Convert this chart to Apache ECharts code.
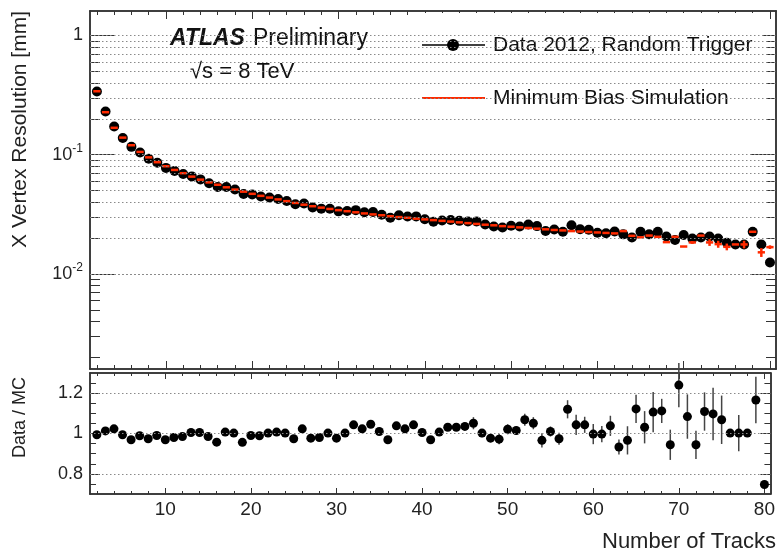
<!DOCTYPE html>
<html>
<head>
<meta charset="utf-8">
<script src="https://cdn.jsdelivr.net/npm/echarts@6/dist/echarts.min.js"></script>
<style>
html, body { margin: 0; padding: 0; background: #fff; }
#main { width: 778px; height: 552px; }
</style>
</head>
<body>
<div id="main"></div>
<script>
// number of tracks (bin centres)
var nTracks = [2,3,4,5,6,7,8,9,10,11,12,13,14,15,16,17,18,19,20,21,22,23,24,25,26,27,28,29,30,
  31,32,33,34,35,36,37,38,39,40,41,42,43,44,45,46,47,48,49,50,51,52,53,54,55,56,57,58,59,60,
  61,62,63,64,65,66,67,68,69,70,71,72,73,74,75,76,77,78,79,80];

// data 2012, x vertex resolution [mm]
var dataRes = [0.338,0.230,0.172,0.138,0.1163,0.1043,0.0925,0.0856,0.0775,0.0730,0.0690,0.0658,0.0621,0.0577,
  0.0536,0.0537,0.0511,0.0468,0.0465,0.0447,0.0438,0.0425,0.0409,0.0384,0.0390,0.0361,0.0353,0.0352,0.0335,
  0.0337,0.0343,0.0329,0.0331,0.0314,0.0296,0.0311,0.0303,0.0304,0.0288,0.0274,0.0281,0.0284,0.0279,0.0276,
  0.0276,0.0260,0.0250,0.0245,0.0254,0.0250,0.0260,0.0252,0.0229,0.0236,0.0226,0.0256,0.0237,0.0235,0.0222,
  0.0220,0.0227,0.0215,0.0202,0.0226,0.0215,0.0226,0.0206,0.0193,0.0212,0.0198,0.0202,0.0206,0.0198,0.0183,
  0.0177,0.0177,0.0226,0.0177,0.0125];

// minimum bias simulation
var mcRes = [0.340,0.227,0.168,0.139,0.120,0.1055,0.0950,0.0865,0.0800,0.0745,0.0700,0.0655,0.0618,0.0586,
  0.0560,0.0533,0.0510,0.0490,0.0470,0.0452,0.0437,0.0422,0.0408,0.0394,0.0381,0.0370,0.0360,0.0351,0.0343,
  0.0336,0.0329,0.0322,0.0316,0.0311,0.0305,0.0300,0.0296,0.0291,0.0287,0.0283,0.0279,0.0275,0.0271,0.0267,
  0.0263,0.0259,0.0256,0.0252,0.0249,0.0246,0.0243,0.0240,0.0237,0.0234,0.0232,0.0229,0.0227,0.0225,0.0223,
  0.0221,0.0219,0.0229,0.0209,0.0203,0.0210,0.0205,0.0185,0.0205,0.0170,0.0184,0.0210,0.0184,0.0178,0.0169,
  0.0177,0.0177,0.0226,0.0152,0.0168];

var mcErr = [0,0,0,0,0,0,0,0,0,0,0,0,0,0,0,0,0,0,0,0,0,0,0,0,0,0,0,0,0,
  0,0,0,0,0,0,0,0,0,0,0,0,0,0,0,0,0,0,0,0,0,0,0,0,0,0,0,0,0,0,
  0,0,0,0,0,0,0,0,0,0,0.0005,0,0.0012,0.0012,0.0011,0,0.0013,0,0.0013,0.0006];

// data / MC
var ratio = [0.994,1.013,1.023,0.994,0.969,0.989,0.974,0.990,0.969,0.980,0.985,1.005,1.005,0.985,0.957,1.007,
  1.002,0.956,0.990,0.989,1.002,1.007,1.002,0.974,1.023,0.977,0.980,1.002,0.977,1.002,1.043,1.023,1.046,1.010,
  0.969,1.038,1.023,1.043,1.005,0.969,1.007,1.031,1.031,1.035,1.051,1.002,0.977,0.972,1.021,1.015,1.068,1.051,
  0.966,1.010,0.974,1.120,1.043,1.043,0.997,0.997,1.038,0.933,0.966,1.122,1.031,1.106,1.112,0.944,1.240,1.084,
  0.944,1.109,1.097,1.068,1.002,1.002,1.002,1.166,0.747];

var ratioErr = [0.004,0.004,0.004,0.004,0.004,0.004,0.004,0.004,0.004,0.004,0.004,0.004,0.004,0.004,0.004,0.004,
  0.004,0.004,0.004,0.006,0.006,0.006,0.006,0.006,0.006,0.006,0.006,0.006,0.006,0.01,0.01,0.01,0.01,0.01,0.01,
  0.01,0.01,0.01,0.01,0.015,0.015,0.015,0.015,0.015,0.03,0.02,0.02,0.025,0.025,0.02,0.03,0.03,0.035,0.025,0.03,
  0.045,0.05,0.04,0.05,0.04,0.05,0.037,0.07,0.07,0.08,0.1,0.06,0.075,0.11,0.11,0.07,0.095,0.13,0.12,0.005,
  0.09,0.005,0.115,0.01];

// axis ticks
var xLabels = [10,20,30,40,50,60,70,80];
var xMinor = [2,4,6,8,12,14,16,18,22,24,26,28,32,34,36,38,42,44,46,48,52,54,56,58,62,64,66,68,72,74,76,78];
var yDecades = [0.01, 0.1, 1];
var yMinor = [0.002,0.003,0.004,0.005,0.006,0.007,0.008,0.009,0.02,0.03,0.04,0.05,0.06,0.07,0.08,0.09,
  0.2,0.3,0.4,0.5,0.6,0.7,0.8,0.9];
var ratioLabels = [0.8, 1, 1.2];
var ratioMinor = [0.75, 0.85, 0.9, 0.95, 1.05, 1.1, 1.15, 1.25];

var X_MIN = 1.2, X_MAX = 80.7;
var Y_MIN = 0.0016, Y_MAX = 1.6;
var R_MIN = 0.7, R_MAX = 1.3;
var FONT = 'Liberation Sans';
var frame = { color: '#333', width: 1.5 };

var dom = document.getElementById('main');
var myChart = echarts.init(dom);

function xAx(grid, pos, vals, len, withLabels) {
    return {
        type: 'value', gridIndex: grid, position: pos, min: X_MIN, max: X_MAX,
        axisLine: { show: true, onZero: false, lineStyle: frame },
        axisTick: { show: true, inside: true, length: len, customValues: vals, lineStyle: { color: '#333' } },
        axisLabel: withLabels ? {
            customValues: xLabels, margin: 6, fontSize: 19, fontFamily: FONT, color: '#222'
        } : { show: false },
        splitLine: { show: false }
    };
}

function yAx(grid, pos, min, max, vals, len, fmt) {
    return {
        type: 'value', gridIndex: grid, position: pos, min: min, max: max,
        axisLine: { show: true, onZero: false, lineStyle: frame },
        axisTick: { show: true, inside: true, length: len, customValues: vals, lineStyle: { color: '#333' } },
        axisLabel: fmt ? {
            customValues: vals, margin: 7, fontSize: 18, fontFamily: FONT, color: '#222',
            formatter: fmt,
            rich: { s: { fontSize: 12, fontFamily: FONT, color: '#222', padding: [0, 0, 12, 0] } }
        } : { show: false },
        splitLine: { show: false }
    };
}

var lgMin = Math.log10(Y_MIN), lgMax = Math.log10(Y_MAX);
var decLog = yDecades.map(function (v) { return Math.log10(v); });
var minLog = yMinor.map(function (v) { return Math.log10(v); });

function decadeLabel(v) {
    var e = Math.round(v);
    return e === 0 ? '1' : '10{s|' + e + '}';
}
function ratioLabel(v) {
    return String(Math.round(v * 10) / 10);
}

var topGrid = yMinor.concat(yDecades).map(function (v) { return { yAxis: v }; });
var ratioGrid = ratioLabels.map(function (v) { return { yAxis: v }; });
var dotted = { color: '#8a8a8a', type: [1.5, 2.5], width: 1 };

function renderMc(params, api) {
    var n = api.value(0), v = api.value(1), e = api.value(2);
    var l = api.coord([n - 0.42, v]);
    var r = api.coord([n + 0.42, v]);
    var st = { stroke: '#ff2a00', lineWidth: 2.5 };
    var kids = [{ type: 'line', shape: { x1: l[0], y1: l[1], x2: r[0], y2: r[1] }, style: st }];
    if (e > 0) {
        var t = api.coord([n, v + e]), b = api.coord([n, v - e]);
        kids.push({ type: 'line', shape: { x1: t[0], y1: t[1], x2: b[0], y2: b[1] }, style: st });
    }
    return { type: 'group', children: kids };
}

function renderErr(params, api) {
    var n = api.value(0), v = api.value(1), e = api.value(2);
    var t = api.coord([n, v + e]), b = api.coord([n, v - e]);
    return { type: 'line', shape: { x1: t[0], y1: t[1], x2: b[0], y2: b[1] },
        style: { stroke: '#444', lineWidth: 1.5 } };
}

var option = {
    backgroundColor: '#fff',
    animation: false,
    grid: [
        { left: 90, top: 11, width: 686, height: 358 },
        { left: 90, top: 373, width: 686, height: 121 }
    ],
    xAxis: [
        xAx(0, 'bottom', xMinor, 4, false),   // 0 data axis top panel
        xAx(0, 'bottom', xLabels, 8, false),
        xAx(0, 'top', xMinor, 4, false),
        xAx(0, 'top', xLabels, 8, false),
        xAx(1, 'bottom', xMinor, 3, false),   // 4 data axis ratio panel
        xAx(1, 'bottom', xLabels, 6, true),
        xAx(1, 'top', xMinor, 3, false),
        xAx(1, 'top', xLabels, 6, false)
    ],
    yAxis: [
        { type: 'log', gridIndex: 0, min: Y_MIN, max: Y_MAX, show: false, logBase: 10 },  // 0
        yAx(0, 'left', lgMin, lgMax, minLog, 10, null),
        yAx(0, 'left', lgMin, lgMax, decLog, 25, decadeLabel),
        yAx(0, 'right', lgMin, lgMax, minLog, 10, null),
        yAx(0, 'right', lgMin, lgMax, decLog, 25, null),
        yAx(1, 'left', R_MIN, R_MAX, ratioMinor, 6, null),  // 5
        yAx(1, 'left', R_MIN, R_MAX, ratioLabels, 10, ratioLabel),
        yAx(1, 'right', R_MIN, R_MAX, ratioMinor, 6, null),
        yAx(1, 'right', R_MIN, R_MAX, ratioLabels, 10, null)
    ],
    series: [
        {
            name: 'grid top', type: 'line', xAxisIndex: 0, yAxisIndex: 0, data: [], z: 1, silent: true,
            markLine: { silent: true, symbol: 'none', label: { show: false }, lineStyle: dotted,
                animation: false, data: topGrid }
        },
        {
            name: 'grid ratio', type: 'line', xAxisIndex: 4, yAxisIndex: 6, data: [], z: 1, silent: true,
            markLine: { silent: true, symbol: 'none', label: { show: false }, lineStyle: dotted,
                animation: false, data: ratioGrid }
        },
        {
            name: 'Data 2012, Random Trigger', type: 'scatter', xAxisIndex: 0, yAxisIndex: 0, z: 3,
            symbol: 'circle', symbolSize: 10, itemStyle: { color: '#000', opacity: 1 },
            data: nTracks.map(function (n, i) { return [n, dataRes[i]]; })
        },
        {
            name: 'Minimum Bias Simulation', type: 'custom', xAxisIndex: 0, yAxisIndex: 0, z: 4,
            renderItem: renderMc, encode: { x: 0, y: 1 },
            data: nTracks.map(function (n, i) { return [n, mcRes[i], mcErr[i]]; })
        },
        {
            name: 'ratio err', type: 'custom', xAxisIndex: 4, yAxisIndex: 6, z: 3,
            renderItem: renderErr, encode: { x: 0, y: 1 },
            data: nTracks.map(function (n, i) { return [n, ratio[i], ratioErr[i]]; })
        },
        {
            name: 'Data / MC', type: 'scatter', xAxisIndex: 4, yAxisIndex: 6, z: 4,
            symbol: 'circle', symbolSize: 9, itemStyle: { color: '#000', opacity: 1 },
            data: nTracks.map(function (n, i) { return [n, ratio[i]]; })
        }
    ],
    graphic: [
        // legend box
        { type: 'rect', z: 2, shape: { x: 413, y: 13, width: 350, height: 114 }, style: { fill: '#fff' } },
        { type: 'line', z: 3, shape: { x1: 422, y1: 45, x2: 485, y2: 45 }, style: { stroke: '#000', lineWidth: 1.5 } },
        { type: 'circle', z: 3, shape: { cx: 453, cy: 45, r: 6 }, style: { fill: '#000' } },
        { type: 'text', z: 3, x: 493, y: 45, style: { text: 'Data 2012, Random Trigger', font: '21px "Liberation Sans"',
            fill: '#111', verticalAlign: 'middle' } },
        { type: 'line', z: 3, shape: { x1: 422, y1: 98, x2: 485, y2: 98 }, style: { stroke: '#ff2a00', lineWidth: 2 } },
        { type: 'text', z: 3, x: 493, y: 98, style: { text: 'Minimum Bias Simulation', font: '21px "Liberation Sans"',
            fill: '#111', verticalAlign: 'middle' } },
        // labels
        { type: 'text', z: 3, x: 170, y: 39, style: { text: 'ATLAS', font: 'italic bold 23px "Liberation Sans"',
            fill: '#111', verticalAlign: 'middle' } },
        { type: 'text', z: 3, x: 253, y: 39, style: { text: 'Preliminary', font: '23px "Liberation Sans"',
            fill: '#111', verticalAlign: 'middle' } },
        { type: 'text', z: 3, x: 190, y: 72, style: { text: '\u221as = 8 TeV', font: '22px "Liberation Sans"',
            fill: '#111', verticalAlign: 'middle' } },
        // axis titles
        { type: 'text', z: 3, x: 20, y: 11, rotation: Math.PI / 2, style: { text: 'X Vertex Resolution [mm]',
            font: '21px "Liberation Sans"', fill: '#222', align: 'right', verticalAlign: 'middle' } },
        { type: 'text', z: 3, x: 20, y: 377, rotation: Math.PI / 2, style: { text: 'Data / MC',
            font: '18px "Liberation Sans"', fill: '#222', align: 'right', verticalAlign: 'middle' } },
        { type: 'text', z: 3, x: 776, y: 542, style: { text: 'Number of Tracks',
            font: '22px "Liberation Sans"', fill: '#222', align: 'right', verticalAlign: 'middle' } }
    ]
};

if (option && typeof option === "object") {
    myChart.setOption(option, true);
}
</script>
</body>
</html>
